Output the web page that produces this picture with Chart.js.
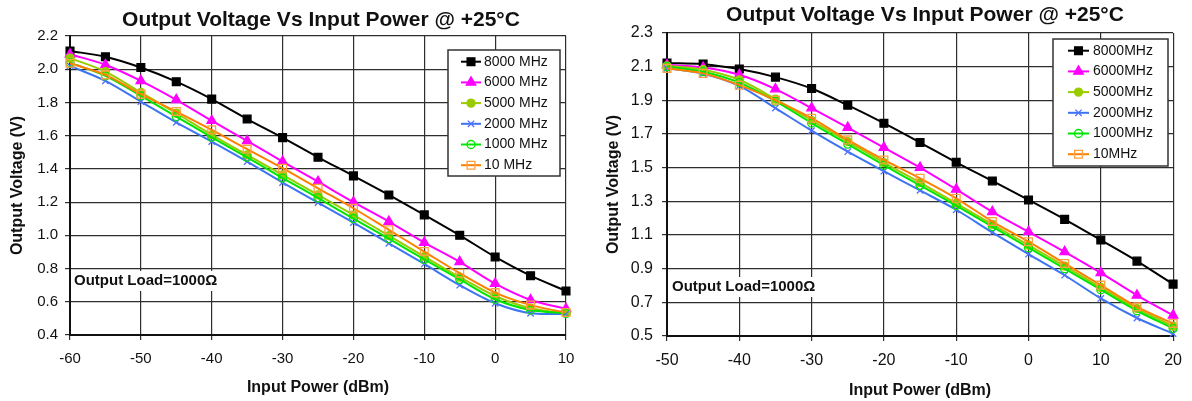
<!DOCTYPE html>
<html>
<head>
<meta charset="utf-8">
<script src="https://cdn.jsdelivr.net/npm/chart.js@4.4.1/dist/chart.umd.min.js"></script>
<style>
  html, body { margin: 0; padding: 0; background: #fff; }
  .panel { position: absolute; top: 0; width: 596px; height: 401px; }
</style>
</head>
<body>
<div class="panel" style="left:0"><canvas id="left"></canvas></div>
<div class="panel" style="left:596px"><canvas id="right"></canvas></div>
<script>
// input power sweep (dBm)
const powerA = [-60, -55, -50, -45, -40, -35, -30, -25, -20, -15, -10, -5, 0, 5, 10];
const powerB = [-50, -45, -40, -35, -30, -25, -20, -15, -10, -5, 0, 5, 10, 15, 20];

// output voltage (V), first panel
const a8000 = [2.11, 2.075, 2.01, 1.925, 1.82, 1.70, 1.588, 1.47, 1.358, 1.243, 1.123, 1.0, 0.87, 0.757, 0.665];
const a6000 = [2.09, 2.027, 1.93, 1.816, 1.69, 1.569, 1.444, 1.323, 1.2, 1.083, 0.956, 0.84, 0.709, 0.611, 0.558];
const a5000 = [2.067, 1.986, 1.86, 1.735, 1.605, 1.484, 1.364, 1.243, 1.123, 0.998, 0.872, 0.748, 0.635, 0.561, 0.531];
const a2000 = [2.02, 1.93, 1.805, 1.68, 1.564, 1.444, 1.318, 1.197, 1.077, 0.952, 0.828, 0.70, 0.591, 0.531, 0.527];
const a1000 = [2.04, 1.96, 1.84, 1.715, 1.59, 1.47, 1.345, 1.225, 1.10, 0.98, 0.855, 0.735, 0.615, 0.55, 0.53];
const a10 = [2.036, 1.966, 1.85, 1.745, 1.635, 1.519, 1.404, 1.283, 1.163, 1.033, 0.902, 0.772, 0.655, 0.58, 0.535];

// output voltage (V), second panel
const b8000 = [2.121, 2.115, 2.086, 2.038, 1.97, 1.871, 1.764, 1.649, 1.532, 1.421, 1.308, 1.193, 1.07, 0.945, 0.808];
const b6000 = [2.111, 2.095, 2.052, 1.967, 1.854, 1.738, 1.619, 1.5, 1.371, 1.238, 1.119, 1.0, 0.875, 0.742, 0.623];
const b5000 = [2.105, 2.082, 2.022, 1.907, 1.78, 1.655, 1.53, 1.411, 1.288, 1.163, 1.04, 0.915, 0.788, 0.663, 0.558];
const b2000 = [2.09, 2.058, 1.986, 1.854, 1.72, 1.595, 1.479, 1.365, 1.25, 1.115, 0.986, 0.861, 0.723, 0.607, 0.514];
const b1000 = [2.10, 2.07, 2.005, 1.895, 1.765, 1.64, 1.515, 1.395, 1.275, 1.15, 1.025, 0.90, 0.775, 0.65, 0.545];
const b10 = [2.09, 2.06, 1.99, 1.90, 1.794, 1.665, 1.546, 1.437, 1.318, 1.18, 1.06, 0.931, 0.802, 0.673, 0.574];

const namesA = ['8000 MHz', '6000 MHz', '5000 MHz', '2000 MHz', '1000 MHz', '10 MHz'];
const namesB = ['8000MHz', '6000MHz', '5000MHz', '2000MHz', '1000MHz', '10MHz'];

const FONT = 'Arial, "Liberation Sans", sans-serif';
const INK = '#111';
const GRID = '#2e2e2e';

const styles = [
  { line: '#000000', point: '#000000', fill: '#000000', shape: 'rect', r: 5.5 },
  { line: '#FF00FF', point: '#FF00FF', fill: '#FF00FF', shape: 'triangle', r: 5.5 },
  { line: '#99CC00', point: '#99CC00', fill: '#99CC00', shape: 'circle', r: 4 },
  { line: '#3D74F2', point: '#4F6FFF', fill: '#4F6FFF', shape: 'crossRot', r: 4.5 },
  { line: '#00E600', point: '#00E600', fill: 'rgba(255,255,255,0)', shape: 'circle', r: 4 },
  { line: '#FF8000', point: '#FFA040', fill: 'rgba(255,255,255,0)', shape: 'rect', r: 5.5 }
];

// title + load note
const panelText = {
  id: 'panelText',
  afterDraw(chart, args, o) {
    const ctx = chart.ctx;
    ctx.save();
    ctx.fillStyle = INK;
    ctx.textBaseline = 'middle';
    ctx.textAlign = 'center';
    ctx.font = 'bold 21px ' + FONT;
    ctx.fillText(o.title, o.titleX, o.titleY);

    ctx.font = 'bold 15px ' + FONT;
    ctx.textAlign = 'left';
    const w = ctx.measureText(o.note).width;
    ctx.fillStyle = '#fff';
    ctx.fillRect(o.noteX - 2, o.noteY - 10, w + 4, 20);
    ctx.fillStyle = INK;
    ctx.fillText(o.note, o.noteX, o.noteY);
    ctx.restore();
  }
};

// framed legend inside the plot
const boxLegend = {
  id: 'boxLegend',
  afterDraw(chart, args, o) {
    const ctx = chart.ctx;
    ctx.save();
    ctx.fillStyle = '#fff';
    ctx.fillRect(o.x, o.y, o.w, o.h);
    ctx.strokeStyle = '#333';
    ctx.lineWidth = 1.5;
    ctx.strokeRect(o.x, o.y, o.w, o.h);
    ctx.font = '14px ' + FONT;
    ctx.textBaseline = 'middle';
    ctx.textAlign = 'left';
    chart.data.datasets.forEach((ds, i) => {
      const y = o.y + o.first + i * o.step;
      ctx.strokeStyle = ds.borderColor;
      ctx.lineWidth = 2;
      ctx.beginPath();
      ctx.moveTo(o.x0, y);
      ctx.lineTo(o.x1, y);
      ctx.stroke();
      ctx.fillStyle = ds.pointBackgroundColor;
      ctx.strokeStyle = ds.pointBorderColor;
      ctx.lineWidth = ds.pointBorderWidth;
      Chart.helpers.drawPoint(ctx, {
        pointStyle: ds.pointStyle, radius: ds.pointRadius,
        borderWidth: ds.pointBorderWidth, rotation: 0
      }, (o.x0 + o.x1) / 2, y);
      ctx.fillStyle = INK;
      ctx.fillText(ds.label, o.textX, y);
    });
    ctx.restore();
  }
};

function buildPanel(id, p) {
  const datasets = p.series.map((vals, i) => ({
    label: p.names[i],
    data: p.power.map((x, k) => ({ x: x, y: vals[k] })),
    borderColor: styles[i].line,
    borderWidth: 2,
    pointStyle: styles[i].shape,
    pointRadius: styles[i].r,
    pointBorderColor: styles[i].point,
    pointBackgroundColor: styles[i].fill,
    pointBorderWidth: 1.3,
    tension: 0.3,
    clip: false,
    order: p.series.length - 1 - i
  }));

  return new Chart(document.getElementById(id), {
    type: 'line',
    data: { datasets },
    plugins: [panelText, boxLegend],
    options: {
      responsive: true,
      maintainAspectRatio: false,
      animation: false,
      layout: { padding: { top: p.area.top, right: 596 - p.area.right, left: 0, bottom: 0 } },
      plugins: {
        legend: { display: false },
        tooltip: { enabled: false },
        panelText: p.text,
        boxLegend: p.legend
      },
      scales: {
        x: {
          type: 'linear',
          min: p.power[0],
          max: p.power[p.power.length - 1],
          ticks: { stepSize: 10, padding: 10, color: INK, font: { family: FONT, size: p.tickSize } },
          grid: { color: GRID, lineWidth: 1.2, tickLength: 5 },
          border: { color: '#111', width: 2 },
          title: {
            display: true, text: 'Input Power (dBm)', color: INK,
            font: { family: FONT, size: 16, weight: 'bold' },
            padding: { top: 0, bottom: p.xTitlePad }
          },
          afterFit: s => { s.height = 401 - p.area.bottom; }
        },
        y: {
          min: p.yMin,
          max: p.yMax,
          ticks: {
            stepSize: 0.2, padding: p.yTickPad, color: INK,
            font: { family: FONT, size: p.tickSize },
            callback: v => v.toFixed(1)
          },
          grid: { color: GRID, lineWidth: 1.2, tickLength: 5 },
          border: { color: '#111', width: 2 },
          title: {
            display: true, text: 'Output Voltage (V)', color: INK,
            font: { family: FONT, size: 16, weight: 'bold' },
            padding: { top: p.yTitlePad, bottom: 0 }
          },
          afterFit: s => { s.width = p.area.left; }
        }
      }
    }
  });
}

buildPanel('left', {
  power: powerA,
  series: [a8000, a6000, a5000, a2000, a1000, a10],
  names: namesA,
  yMin: 0.4, yMax: 2.2,
  area: { left: 70, right: 566, top: 36, bottom: 335 },
  tickSize: 15, yTickPad: 7, xTitlePad: 4, yTitlePad: 8,
  text: {
    title: 'Output Voltage Vs Input Power @ +25°C', titleX: 321, titleY: 20,
    note: 'Output Load=1000Ω', noteX: 74, noteY: 281
  },
  legend: { x: 448, y: 50, w: 112, h: 126, first: 11.7, step: 20.7, x0: 461, x1: 481, textX: 484 }
});

buildPanel('right', {
  power: powerB,
  series: [b8000, b6000, b5000, b2000, b1000, b10],
  names: namesB,
  yMin: 0.5, yMax: 2.3,
  area: { left: 71, right: 579, top: 33, bottom: 336 },
  tickSize: 16, yTickPad: 9, xTitlePad: 1, yTitlePad: 8,
  text: {
    title: 'Output Voltage Vs Input Power @ +25°C', titleX: 329, titleY: 15,
    note: 'Output Load=1000Ω', noteX: 76, noteY: 287
  },
  legend: { x: 457, y: 39, w: 115, h: 127, first: 11.7, step: 20.7, x0: 472, x1: 493, textX: 497 }
});
</script>
</body>
</html>
